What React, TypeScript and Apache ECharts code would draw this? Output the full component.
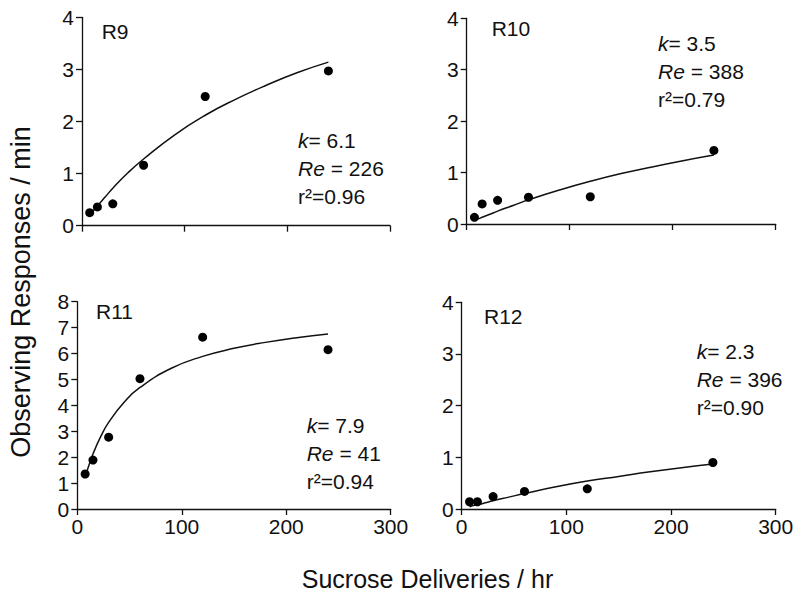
import React, { useEffect, useRef } from "react";
import * as echarts from "echarts";

// Sucrose deliveries / hr (x) for observed points
const deliveries = [7.5, 15, 30, 60, 120, 240];

// Observed responses / min for each rat
const r9Obs = [0.25, 0.36, 0.42, 1.16, 2.48, 2.97];
const r10Obs = [0.13, 0.39, 0.46, 0.52, 0.53, 1.43];
const r11Obs = [1.35, 1.89, 2.77, 5.03, 6.63, 6.15];
const r12Obs = [0.14, 0.14, 0.24, 0.34, 0.39, 0.9];

// Fitted curves
const fitX = [7.5, 10, 15, 22.5, 30, 45, 60, 90, 120, 150, 180, 210, 240];
const r9Fit = [0.2, 0.26, 0.38, 0.55, 0.72, 1.02, 1.28, 1.74, 2.12, 2.43, 2.7, 2.94, 3.14];
const r10Fit = [0.07, 0.09, 0.13, 0.19, 0.25, 0.36, 0.47, 0.66, 0.83, 0.98, 1.11, 1.23, 1.34];
const r11Fit = [1.22, 1.55, 2.12, 2.8, 3.34, 4.13, 4.69, 5.43, 5.89, 6.2, 6.43, 6.61, 6.75];
const r12Fit = [0.04, 0.06, 0.08, 0.12, 0.16, 0.23, 0.3, 0.43, 0.54, 0.63, 0.72, 0.8, 0.87];

const panelNames = ["R9", "R10", "R11", "R12"];
const kValues = ["6.1", "3.5", "7.9", "2.3"];
const reValues = ["226", "388", "41", "396"];
const r2Values = ["0.96", "0.79", "0.94", "0.90"];
const yMaxes = [4, 4, 8, 4];
const xTicks = [0, 100, 200, 300];

const FONT = "'Liberation Sans', Arial, Helvetica, sans-serif";
const INK = "#111";

const grids = [
  { left: 82, top: 17.3, width: 308, height: 208.4 },
  { left: 466.7, top: 18.3, width: 309, height: 205.7 },
  { left: 77.3, top: 301.7, width: 313.4, height: 207.3 },
  { left: 461.7, top: 302.3, width: 314, height: 206.7 },
];

const labelPos = [
  [101.7, 31],
  [491.7, 28.5],
  [96, 311.7],
  [484, 316.7],
];
const annoPos = [
  [298, 140],
  [658, 43],
  [306.7, 425],
  [696.7, 351],
];

export default function App() {
  const ref = useRef<HTMLDivElement>(null);
  useEffect(() => {
    if (!ref.current) return;
    const chart = echarts.init(ref.current, undefined, { renderer: "svg" });
    const obs = [r9Obs, r10Obs, r11Obs, r12Obs];
    const fits = [r9Fit, r10Fit, r11Fit, r12Fit];

    const xAxis = grids.map((_, i) => ({
      type: "value",
      gridIndex: i,
      min: xTicks[0],
      max: xTicks[xTicks.length - 1],
      interval: 100,
      axisLine: { show: true, onZero: false, lineStyle: { color: INK, width: 1.3 } },
      axisTick: { show: true, length: 6, lineStyle: { color: INK, width: 1.3 } },
      axisLabel: {
        show: i >= 2,
        color: INK,
        fontSize: 21,
        fontFamily: FONT,
        margin: 7,
      },
      splitLine: { show: false },
    }));
    const yAxis = grids.map((_, i) => ({
      type: "value",
      gridIndex: i,
      min: 0,
      max: yMaxes[i],
      interval: 1,
      axisLine: { show: true, onZero: false, lineStyle: { color: INK, width: 1.3 } },
      axisTick: { show: true, length: 6, lineStyle: { color: INK, width: 1.3 } },
      axisLabel: { color: INK, fontSize: 21, fontFamily: FONT, margin: 8 },
      splitLine: { show: false },
    }));

    const series: any[] = [];
    for (let i = 0; i < 4; i++) {
      series.push({
        type: "line",
        xAxisIndex: i,
        yAxisIndex: i,
        data: fitX.map((x, j) => [x, fits[i][j]]),
        smooth: true,
        showSymbol: false,
        symbol: "none",
        lineStyle: { color: INK, width: 1.5 },
        z: 2,
      });
      series.push({
        type: "scatter",
        xAxisIndex: i,
        yAxisIndex: i,
        data: deliveries.map((x, j) => [x, obs[i][j]]),
        symbol: "circle",
        symbolSize: 9,
        itemStyle: { color: "#000", opacity: 1 },
        z: 3,
      });
    }

    const textStyle = { fontSize: 21, fontFamily: FONT, fill: INK };
    const rich = { i: { fontStyle: "italic", fontSize: 21, fontFamily: FONT, fill: INK } };
    const graphics: any[] = [];
    for (let i = 0; i < 4; i++) {
      graphics.push({
        type: "text",
        x: labelPos[i][0],
        y: labelPos[i][1],
        style: { ...textStyle, text: panelNames[i], verticalAlign: "middle" },
      });
      const [ax, ay] = annoPos[i];
      graphics.push({
        type: "text",
        x: ax,
        y: ay,
        style: { ...textStyle, text: "{i|k}= " + kValues[i], verticalAlign: "middle", rich },
      });
      graphics.push({
        type: "text",
        x: ax,
        y: ay + 28,
        style: { ...textStyle, text: "{i|Re} = " + reValues[i], verticalAlign: "middle", rich },
      });
      graphics.push({
        type: "text",
        x: ax,
        y: ay + 56,
        style: { ...textStyle, text: "r²=" + r2Values[i], verticalAlign: "middle" },
      });
    }
    graphics.push({
      type: "text",
      x: 21,
      y: 292,
      rotation: Math.PI / 2,
      style: {
        text: "Observing Responses / min",
        fontSize: 27,
        fontFamily: FONT,
        fill: INK,
        align: "center",
        verticalAlign: "middle",
      },
    });
    graphics.push({
      type: "text",
      x: 427.5,
      y: 579,
      style: {
        text: "Sucrose Deliveries / hr",
        fontSize: 25,
        fontFamily: FONT,
        fill: INK,
        align: "center",
        verticalAlign: "middle",
      },
    });

    chart.setOption({
      animation: false,
      backgroundColor: "#fff",
      grid: grids.map((g) => ({ ...g, containLabel: false })),
      xAxis,
      yAxis,
      series,
      graphic: graphics,
    });
    return () => chart.dispose();
  }, []);
  return (
    <div
      ref={ref}
      style={{ position: "absolute", left: 0, top: 0, width: 800, height: 596 }}
    />
  );
}
